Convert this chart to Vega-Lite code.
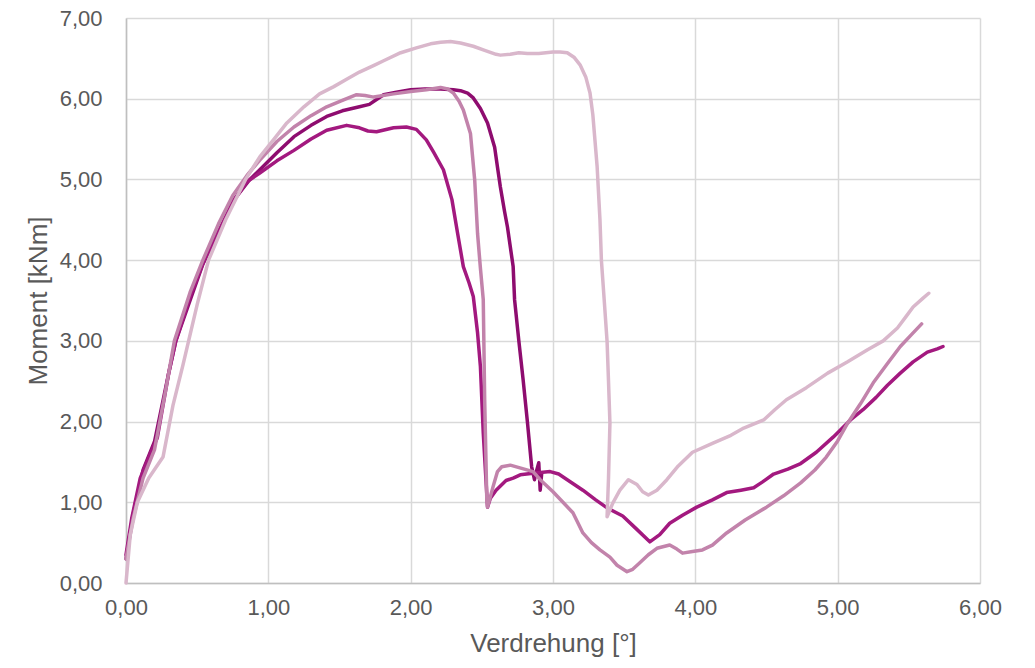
{
  "$schema": "https://vega.github.io/schema/vega-lite/v6.json",
  "width": 854,
  "height": 565,
  "autosize": {"type": "none"},
  "padding": {"left": 126, "top": 18, "right": 55, "bottom": 85},
  "background": "white",
  "config": {
    "locale": {"number": {"decimal": ",", "thousands": ".", "grouping": [3], "currency": ["", " €"]}},
    "view": {"stroke": null},
    "font": "Liberation Sans",
    "axis": {
      "labelFont": "Liberation Sans",
      "titleFont": "Liberation Sans",
      "labelColor": "#595959",
      "titleColor": "#595959",
      "labelFontSize": 22,
      "titleFontSize": 26,
      "titleFontWeight": "normal",
      "gridColor": "#d9d9d9",
      "gridWidth": 1.5,
      "domainColor": "#bfbfbf",
      "domainWidth": 1.5,
      "ticks": false
    }
  },
  "data": {"values": [
    {"s":"P1","i":0,"x":0,"y":0.3},{"s":"P1","i":1,"x":0.05,"y":0.85},{"s":"P1","i":2,"x":0.12,"y":1.4},{"s":"P1","i":3,"x":0.2,"y":1.75},{"s":"P1","i":4,"x":0.3,"y":2.6},{"s":"P1","i":5,"x":0.35,"y":3.0},{"s":"P1","i":6,"x":0.45,"y":3.5},{"s":"P1","i":7,"x":0.54,"y":3.95},{"s":"P1","i":8,"x":0.65,"y":4.35},{"s":"P1","i":9,"x":0.76,"y":4.75},{"s":"P1","i":10,"x":0.87,"y":5.0},{"s":"P1","i":11,"x":0.94,"y":5.12},{"s":"P1","i":12,"x":1.06,"y":5.33},{"s":"P1","i":13,"x":1.18,"y":5.53},{"s":"P1","i":14,"x":1.3,"y":5.67},{"s":"P1","i":15,"x":1.41,"y":5.78},{"s":"P1","i":16,"x":1.52,"y":5.85},{"s":"P1","i":17,"x":1.64,"y":5.9},{"s":"P1","i":18,"x":1.71,"y":5.93},{"s":"P1","i":19,"x":1.76,"y":5.99},{"s":"P1","i":20,"x":1.81,"y":6.05},{"s":"P1","i":21,"x":1.9,"y":6.08},{"s":"P1","i":22,"x":2.0,"y":6.11},{"s":"P1","i":23,"x":2.1,"y":6.12},{"s":"P1","i":24,"x":2.21,"y":6.12},{"s":"P1","i":25,"x":2.3,"y":6.11},{"s":"P1","i":26,"x":2.35,"y":6.1},{"s":"P1","i":27,"x":2.4,"y":6.07},{"s":"P1","i":28,"x":2.44,"y":6.01},{"s":"P1","i":29,"x":2.49,"y":5.88},{"s":"P1","i":30,"x":2.54,"y":5.7},{"s":"P1","i":31,"x":2.59,"y":5.4},{"s":"P1","i":32,"x":2.61,"y":5.15},{"s":"P1","i":33,"x":2.63,"y":4.91},{"s":"P1","i":34,"x":2.66,"y":4.6},{"s":"P1","i":35,"x":2.68,"y":4.41},{"s":"P1","i":36,"x":2.72,"y":3.92},{"s":"P1","i":37,"x":2.73,"y":3.51},{"s":"P1","i":38,"x":2.76,"y":3.0},{"s":"P1","i":39,"x":2.79,"y":2.52},{"s":"P1","i":40,"x":2.82,"y":2.0},{"s":"P1","i":41,"x":2.85,"y":1.44},{"s":"P1","i":42,"x":2.87,"y":1.28},{"s":"P1","i":43,"x":2.88,"y":1.36},{"s":"P1","i":44,"x":2.9,"y":1.49},{"s":"P1","i":45,"x":2.91,"y":1.15},{"s":"P1","i":46,"x":2.92,"y":1.35},

    {"s":"P2","i":0,"x":0,"y":0.35},{"s":"P2","i":1,"x":0.04,"y":0.8},{"s":"P2","i":2,"x":0.1,"y":1.3},{"s":"P2","i":3,"x":0.17,"y":1.6},{"s":"P2","i":4,"x":0.22,"y":1.8},{"s":"P2","i":5,"x":0.3,"y":2.6},{"s":"P2","i":6,"x":0.35,"y":3.0},{"s":"P2","i":7,"x":0.45,"y":3.55},{"s":"P2","i":8,"x":0.55,"y":4.0},{"s":"P2","i":9,"x":0.65,"y":4.35},{"s":"P2","i":10,"x":0.76,"y":4.75},{"s":"P2","i":11,"x":0.85,"y":4.97},{"s":"P2","i":12,"x":0.94,"y":5.08},{"s":"P2","i":13,"x":1.06,"y":5.23},{"s":"P2","i":14,"x":1.18,"y":5.36},{"s":"P2","i":15,"x":1.3,"y":5.5},{"s":"P2","i":16,"x":1.41,"y":5.61},{"s":"P2","i":17,"x":1.55,"y":5.67},{"s":"P2","i":18,"x":1.64,"y":5.64},{"s":"P2","i":19,"x":1.7,"y":5.6},{"s":"P2","i":20,"x":1.76,"y":5.59},{"s":"P2","i":21,"x":1.88,"y":5.64},{"s":"P2","i":22,"x":1.97,"y":5.65},{"s":"P2","i":23,"x":2.04,"y":5.62},{"s":"P2","i":24,"x":2.11,"y":5.49},{"s":"P2","i":25,"x":2.16,"y":5.34},{"s":"P2","i":26,"x":2.23,"y":5.12},{"s":"P2","i":27,"x":2.29,"y":4.75},{"s":"P2","i":28,"x":2.33,"y":4.33},{"s":"P2","i":29,"x":2.37,"y":3.92},{"s":"P2","i":30,"x":2.41,"y":3.72},{"s":"P2","i":31,"x":2.44,"y":3.55},{"s":"P2","i":32,"x":2.47,"y":3.1},{"s":"P2","i":33,"x":2.49,"y":2.68},{"s":"P2","i":34,"x":2.51,"y":1.86},{"s":"P2","i":35,"x":2.54,"y":0.94},{"s":"P2","i":36,"x":2.56,"y":1.05},{"s":"P2","i":37,"x":2.6,"y":1.15},{"s":"P2","i":38,"x":2.67,"y":1.27},{"s":"P2","i":39,"x":2.72,"y":1.3},{"s":"P2","i":40,"x":2.77,"y":1.34},{"s":"P2","i":41,"x":2.86,"y":1.36},{"s":"P2","i":42,"x":2.98,"y":1.38},{"s":"P2","i":43,"x":3.04,"y":1.35},{"s":"P2","i":44,"x":3.1,"y":1.28},{"s":"P2","i":45,"x":3.21,"y":1.15},{"s":"P2","i":46,"x":3.3,"y":1.03},{"s":"P2","i":47,"x":3.38,"y":0.93},{"s":"P2","i":48,"x":3.49,"y":0.83},{"s":"P2","i":49,"x":3.58,"y":0.68},{"s":"P2","i":50,"x":3.68,"y":0.51},{"s":"P2","i":51,"x":3.75,"y":0.6},{"s":"P2","i":52,"x":3.82,"y":0.74},{"s":"P2","i":53,"x":3.91,"y":0.84},{"s":"P2","i":54,"x":4.01,"y":0.94},{"s":"P2","i":55,"x":4.12,"y":1.03},{"s":"P2","i":56,"x":4.22,"y":1.12},{"s":"P2","i":57,"x":4.32,"y":1.15},{"s":"P2","i":58,"x":4.41,"y":1.18},{"s":"P2","i":59,"x":4.47,"y":1.25},{"s":"P2","i":60,"x":4.55,"y":1.35},{"s":"P2","i":61,"x":4.65,"y":1.41},{"s":"P2","i":62,"x":4.74,"y":1.48},{"s":"P2","i":63,"x":4.85,"y":1.62},{"s":"P2","i":64,"x":4.97,"y":1.81},{"s":"P2","i":65,"x":5.09,"y":2.02},{"s":"P2","i":66,"x":5.18,"y":2.15},{"s":"P2","i":67,"x":5.27,"y":2.3},{"s":"P2","i":68,"x":5.35,"y":2.45},{"s":"P2","i":69,"x":5.44,"y":2.6},{"s":"P2","i":70,"x":5.53,"y":2.74},{"s":"P2","i":71,"x":5.63,"y":2.86},{"s":"P2","i":72,"x":5.7,"y":2.9},{"s":"P2","i":73,"x":5.74,"y":2.93},

    {"s":"P3","i":0,"x":0,"y":0.3},{"s":"P3","i":1,"x":0.05,"y":0.8},{"s":"P3","i":2,"x":0.12,"y":1.3},{"s":"P3","i":3,"x":0.2,"y":1.65},{"s":"P3","i":4,"x":0.28,"y":2.4},{"s":"P3","i":5,"x":0.34,"y":3.0},{"s":"P3","i":6,"x":0.45,"y":3.6},{"s":"P3","i":7,"x":0.54,"y":4.0},{"s":"P3","i":8,"x":0.65,"y":4.45},{"s":"P3","i":9,"x":0.75,"y":4.8},{"s":"P3","i":10,"x":0.85,"y":5.05},{"s":"P3","i":11,"x":0.94,"y":5.24},{"s":"P3","i":12,"x":1.06,"y":5.47},{"s":"P3","i":13,"x":1.18,"y":5.65},{"s":"P3","i":14,"x":1.3,"y":5.79},{"s":"P3","i":15,"x":1.41,"y":5.9},{"s":"P3","i":16,"x":1.52,"y":5.98},{"s":"P3","i":17,"x":1.62,"y":6.05},{"s":"P3","i":18,"x":1.68,"y":6.04},{"s":"P3","i":19,"x":1.74,"y":6.02},{"s":"P3","i":20,"x":1.88,"y":6.06},{"s":"P3","i":21,"x":2.0,"y":6.09},{"s":"P3","i":22,"x":2.11,"y":6.11},{"s":"P3","i":23,"x":2.21,"y":6.14},{"s":"P3","i":24,"x":2.26,"y":6.12},{"s":"P3","i":25,"x":2.3,"y":6.07},{"s":"P3","i":26,"x":2.34,"y":5.97},{"s":"P3","i":27,"x":2.37,"y":5.86},{"s":"P3","i":28,"x":2.42,"y":5.57},{"s":"P3","i":29,"x":2.45,"y":4.99},{"s":"P3","i":30,"x":2.47,"y":4.33},{"s":"P3","i":31,"x":2.49,"y":3.9},{"s":"P3","i":32,"x":2.51,"y":3.51},{"s":"P3","i":33,"x":2.52,"y":2.27},{"s":"P3","i":34,"x":2.535,"y":1.03},{"s":"P3","i":35,"x":2.54,"y":0.94},{"s":"P3","i":36,"x":2.58,"y":1.2},{"s":"P3","i":37,"x":2.61,"y":1.38},{"s":"P3","i":38,"x":2.64,"y":1.44},{"s":"P3","i":39,"x":2.7,"y":1.46},{"s":"P3","i":40,"x":2.78,"y":1.42},{"s":"P3","i":41,"x":2.86,"y":1.38},{"s":"P3","i":42,"x":2.91,"y":1.28},{"s":"P3","i":43,"x":3.0,"y":1.13},{"s":"P3","i":44,"x":3.07,"y":1.0},{"s":"P3","i":45,"x":3.14,"y":0.87},{"s":"P3","i":46,"x":3.21,"y":0.62},{"s":"P3","i":47,"x":3.27,"y":0.5},{"s":"P3","i":48,"x":3.33,"y":0.41},{"s":"P3","i":49,"x":3.4,"y":0.32},{"s":"P3","i":50,"x":3.45,"y":0.22},{"s":"P3","i":51,"x":3.52,"y":0.14},{"s":"P3","i":52,"x":3.56,"y":0.17},{"s":"P3","i":53,"x":3.61,"y":0.25},{"s":"P3","i":54,"x":3.67,"y":0.35},{"s":"P3","i":55,"x":3.73,"y":0.43},{"s":"P3","i":56,"x":3.82,"y":0.47},{"s":"P3","i":57,"x":3.87,"y":0.42},{"s":"P3","i":58,"x":3.91,"y":0.37},{"s":"P3","i":59,"x":3.98,"y":0.39},{"s":"P3","i":60,"x":4.05,"y":0.41},{"s":"P3","i":61,"x":4.12,"y":0.47},{"s":"P3","i":62,"x":4.22,"y":0.62},{"s":"P3","i":63,"x":4.35,"y":0.78},{"s":"P3","i":64,"x":4.5,"y":0.94},{"s":"P3","i":65,"x":4.62,"y":1.08},{"s":"P3","i":66,"x":4.74,"y":1.24},{"s":"P3","i":67,"x":4.84,"y":1.4},{"s":"P3","i":68,"x":4.92,"y":1.56},{"s":"P3","i":69,"x":5.0,"y":1.76},{"s":"P3","i":70,"x":5.07,"y":1.98},{"s":"P3","i":71,"x":5.16,"y":2.22},{"s":"P3","i":72,"x":5.25,"y":2.48},{"s":"P3","i":73,"x":5.35,"y":2.72},{"s":"P3","i":74,"x":5.44,"y":2.93},{"s":"P3","i":75,"x":5.52,"y":3.08},{"s":"P3","i":76,"x":5.59,"y":3.21},

    {"s":"P4","i":0,"x":0,"y":0},{"s":"P4","i":1,"x":0.03,"y":0.6},{"s":"P4","i":2,"x":0.08,"y":1.0},{"s":"P4","i":3,"x":0.16,"y":1.3},{"s":"P4","i":4,"x":0.26,"y":1.56},{"s":"P4","i":5,"x":0.33,"y":2.2},{"s":"P4","i":6,"x":0.4,"y":2.7},{"s":"P4","i":7,"x":0.44,"y":3.0},{"s":"P4","i":8,"x":0.5,"y":3.45},{"s":"P4","i":9,"x":0.58,"y":4.0},{"s":"P4","i":10,"x":0.7,"y":4.5},{"s":"P4","i":11,"x":0.84,"y":5.0},{"s":"P4","i":12,"x":0.94,"y":5.28},{"s":"P4","i":13,"x":1.04,"y":5.5},{"s":"P4","i":14,"x":1.13,"y":5.7},{"s":"P4","i":15,"x":1.25,"y":5.9},{"s":"P4","i":16,"x":1.36,"y":6.06},{"s":"P4","i":17,"x":1.46,"y":6.15},{"s":"P4","i":18,"x":1.55,"y":6.24},{"s":"P4","i":19,"x":1.64,"y":6.33},{"s":"P4","i":20,"x":1.75,"y":6.42},{"s":"P4","i":21,"x":1.81,"y":6.47},{"s":"P4","i":22,"x":1.93,"y":6.57},{"s":"P4","i":23,"x":2.04,"y":6.63},{"s":"P4","i":24,"x":2.14,"y":6.68},{"s":"P4","i":25,"x":2.21,"y":6.7},{"s":"P4","i":26,"x":2.28,"y":6.71},{"s":"P4","i":27,"x":2.35,"y":6.69},{"s":"P4","i":28,"x":2.44,"y":6.65},{"s":"P4","i":29,"x":2.52,"y":6.6},{"s":"P4","i":30,"x":2.6,"y":6.55},{"s":"P4","i":31,"x":2.63,"y":6.54},{"s":"P4","i":32,"x":2.7,"y":6.55},{"s":"P4","i":33,"x":2.76,"y":6.57},{"s":"P4","i":34,"x":2.82,"y":6.56},{"s":"P4","i":35,"x":2.9,"y":6.56},{"s":"P4","i":36,"x":3.0,"y":6.58},{"s":"P4","i":37,"x":3.05,"y":6.58},{"s":"P4","i":38,"x":3.1,"y":6.57},{"s":"P4","i":39,"x":3.15,"y":6.51},{"s":"P4","i":40,"x":3.19,"y":6.42},{"s":"P4","i":41,"x":3.23,"y":6.27},{"s":"P4","i":42,"x":3.26,"y":6.07},{"s":"P4","i":43,"x":3.28,"y":5.8},{"s":"P4","i":44,"x":3.31,"y":5.16},{"s":"P4","i":45,"x":3.33,"y":4.5},{"s":"P4","i":46,"x":3.34,"y":4.0},{"s":"P4","i":47,"x":3.36,"y":3.5},{"s":"P4","i":48,"x":3.38,"y":2.99},{"s":"P4","i":49,"x":3.39,"y":2.5},{"s":"P4","i":50,"x":3.4,"y":1.98},{"s":"P4","i":51,"x":3.39,"y":1.3},{"s":"P4","i":52,"x":3.38,"y":0.82},{"s":"P4","i":53,"x":3.42,"y":0.99},{"s":"P4","i":54,"x":3.47,"y":1.15},{"s":"P4","i":55,"x":3.53,"y":1.28},{"s":"P4","i":56,"x":3.59,"y":1.22},{"s":"P4","i":57,"x":3.63,"y":1.13},{"s":"P4","i":58,"x":3.67,"y":1.09},{"s":"P4","i":59,"x":3.73,"y":1.15},{"s":"P4","i":60,"x":3.8,"y":1.28},{"s":"P4","i":61,"x":3.88,"y":1.45},{"s":"P4","i":62,"x":3.98,"y":1.62},{"s":"P4","i":63,"x":4.12,"y":1.73},{"s":"P4","i":64,"x":4.25,"y":1.83},{"s":"P4","i":65,"x":4.34,"y":1.92},{"s":"P4","i":66,"x":4.48,"y":2.02},{"s":"P4","i":67,"x":4.56,"y":2.15},{"s":"P4","i":68,"x":4.64,"y":2.27},{"s":"P4","i":69,"x":4.78,"y":2.42},{"s":"P4","i":70,"x":4.93,"y":2.6},{"s":"P4","i":71,"x":5.07,"y":2.74},{"s":"P4","i":72,"x":5.21,"y":2.89},{"s":"P4","i":73,"x":5.32,"y":3.0},{"s":"P4","i":74,"x":5.42,"y":3.16},{"s":"P4","i":75,"x":5.48,"y":3.3},{"s":"P4","i":76,"x":5.53,"y":3.42},{"s":"P4","i":77,"x":5.6,"y":3.53},{"s":"P4","i":78,"x":5.64,"y":3.59}
  ]},
  "mark": {"type": "line", "strokeWidth": 3.5, "strokeJoin": "round", "strokeCap": "round"},
  "encoding": {
    "x": {"field": "x", "type": "quantitative", "title": "Verdrehung [°]",
      "scale": {"domain": [0, 6], "nice": false, "zero": true},
      "axis": {"values": [0,1,2,3,4,5,6], "format": ".2f", "labelPadding": 14, "titlePadding": 12, "labelFlush": false}},
    "y": {"field": "y", "type": "quantitative", "title": "Moment [kNm]",
      "scale": {"domain": [0, 7], "nice": false},
      "axis": {"values": [0,1,2,3,4,5,6,7], "format": ".2f", "labelPadding": 24, "titlePadding": 8, "labelFlush": false}},
    "color": {"field": "s", "type": "nominal", "legend": null,
      "scale": {"domain": ["P1","P2","P3","P4"], "range": ["#8E0C6F","#A3197F","#C283AB","#D9B7CB"]}},
    "order": {"field": "i", "type": "quantitative"}
  }
}
